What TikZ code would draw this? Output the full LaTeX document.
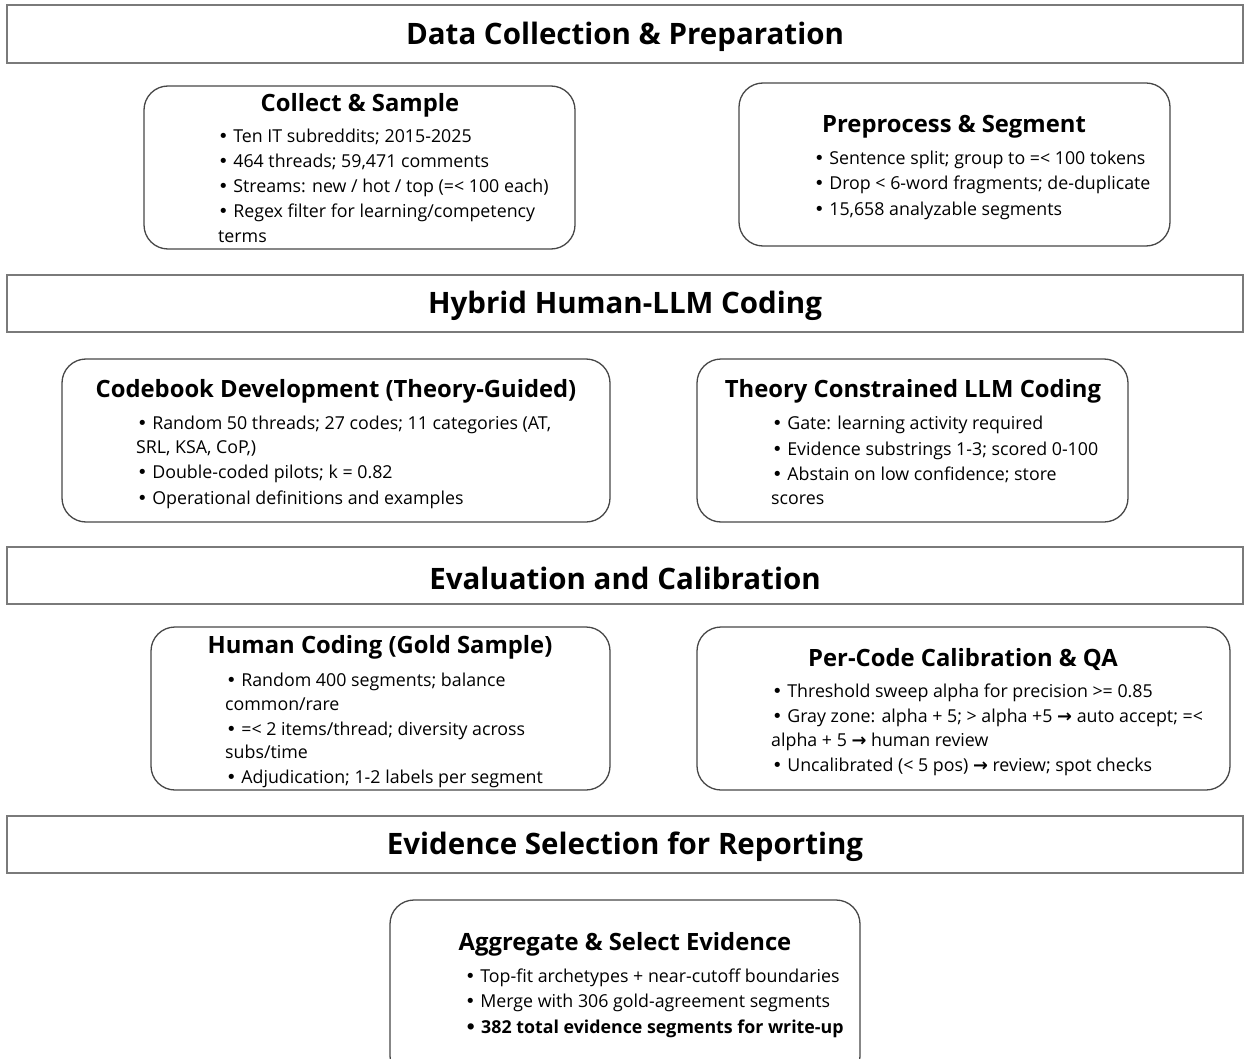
\documentclass[tikz,border=0pt]{standalone}
\usepackage{fontspec}
\setmainfont{Open Sans}
\newfontfamily\symfont{DejaVu Sans}
\newcommand{\arr}{{\symfont\bfseries →}}
\newcommand{\bul}{{\symfont •}\ }
\begin{document}
\begin{tikzpicture}[x=1pt,y=-1pt,
  band/.style={draw=black!52,line width=1.4pt},
  card/.style={draw=black!72,line width=1.3pt,rounded corners=24pt},
  bandtitle/.style={font=\fontsize{29.5}{34}\selectfont\bfseries,inner sep=0pt},
  cardtitle/.style={font=\fontsize{23.8}{28}\selectfont\bfseries,inner sep=0pt},
  ln/.style={font=\fontsize{17.8}{21}\selectfont,anchor=base west,inner sep=0pt}]
\useasboundingbox (0,0) rectangle (1244,1059);
\fill[white] (0,0) rectangle (1244,1059);
% bands
\draw[band] (7,5) rectangle (1243,63);
\draw[band] (7,275) rectangle (1243,332);
\draw[band] (7,547) rectangle (1243,604);
\draw[band] (7,816) rectangle (1243,873);
\node[bandtitle] (h1) at (625,37) {Data Collection \& Preparation};
\node[bandtitle] (h2) at (625,306) {Hybrid Human-LLM Coding};
\node[bandtitle] (h3) at (625,578) {Evaluation and Calibration};
\node[bandtitle] (h4) at (625,847) {Evidence Selection for Reporting};
% cards
\draw[card] (144,86) rectangle (575,249);
\draw[card] (739,83) rectangle (1170,246);
\draw[card] (62,359) rectangle (610,522);
\draw[card] (697,359) rectangle (1128,522);
\draw[card] (151,627) rectangle (610,790);
\draw[card] (697,627) rectangle (1230,790);
\draw[card] (390,900) rectangle (860,1080);
% Collect & Sample
\node[cardtitle] (t1) at (360,105) {Collect \& Sample};
\node[ln] (a1) at (218,143) {\bul Ten IT subreddits; 2015-2025};
\node[ln] (a2) at (218,168) {\bul 464 threads; 59,471 comments};
\node[ln] (a3) at (218,193) {\bul Streams: new / hot / top (=< 100 each)};
\node[ln] (a4) at (218,218) {\bul Regex filter for learning/competency};
\node[ln] (a5) at (218,243) {terms};
% Preprocess
\node[cardtitle] (t2) at (954,127) {Preprocess \& Segment};
\node[ln] (b1) at (814,165) {\bul Sentence split; group to =< 100 tokens};
\node[ln] (b2) at (814,190) {\bul Drop < 6-word fragments; de-duplicate};
\node[ln] (b3) at (814,216) {\bul 15,658 analyzable segments};
% Codebook
\node[cardtitle] (t3) at (336,391) {Codebook Development (Theory-Guided)};
\node[ln] (c1) at (137,429) {\bul Random 50 threads; 27 codes; 11 categories (AT,};
\node[ln] (c2) at (136,453) {SRL, KSA, CoP,)};
\node[ln] (c3) at (137,478) {\bul Double-coded pilots; k = 0.82};
\node[ln] (c4) at (137,504) {\bul Operational definitions and examples};
% Theory constrained
\node[cardtitle] (t4) at (913,391) {Theory Constrained LLM Coding};
\node[ln] (d1) at (772,429) {\bul Gate: learning activity required};
\node[ln] (d2) at (772,455) {\bul Evidence substrings 1-3; scored 0-100};
\node[ln] (d3) at (772,480) {\bul Abstain on low confidence; store};
\node[ln] (d4) at (771,504) {scores};
% Human coding
\node[cardtitle] (t5) at (380,647) {Human Coding (Gold Sample)};
\node[ln] (e1) at (226,686) {\bul Random 400 segments; balance};
\node[ln] (e2) at (225,710) {common/rare};
\node[ln] (e3) at (226,735) {\bul =< 2 items/thread; diversity across};
\node[ln] (e4) at (225,758) {subs/time};
\node[ln] (e5) at (226,783) {\bul Adjudication; 1-2 labels per segment};
% Per-code
\node[cardtitle] (t6) at (963,659) {Per-Code Calibration \& QA};
\node[ln] (f1) at (772,697) {\bul Threshold sweep alpha for precision >= 0.85};
\node[ln] (f2) at (772,722) {\bul Gray zone: alpha + 5; > alpha +5 \arr{} auto accept; =<};
\node[ln] (f3) at (771,746) {alpha + 5 \arr{} human review};
\node[ln] (f4) at (772,771) {\bul Uncalibrated (< 5 pos) \arr{} review; spot checks};
% Aggregate
\node[cardtitle] (t7) at (625,944) {Aggregate \& Select Evidence};
\node[ln] (g1) at (465,982) {\bul Top-fit archetypes + near-cutoff boundaries};
\node[ln] (g2) at (465,1007) {\bul Merge with 306 gold-agreement segments};
\node[ln,font=\fontsize{17.8}{21}\selectfont\bfseries] (g3) at (465,1033) {\bul 382 total evidence segments for write-up};
\end{tikzpicture}
\end{document}
